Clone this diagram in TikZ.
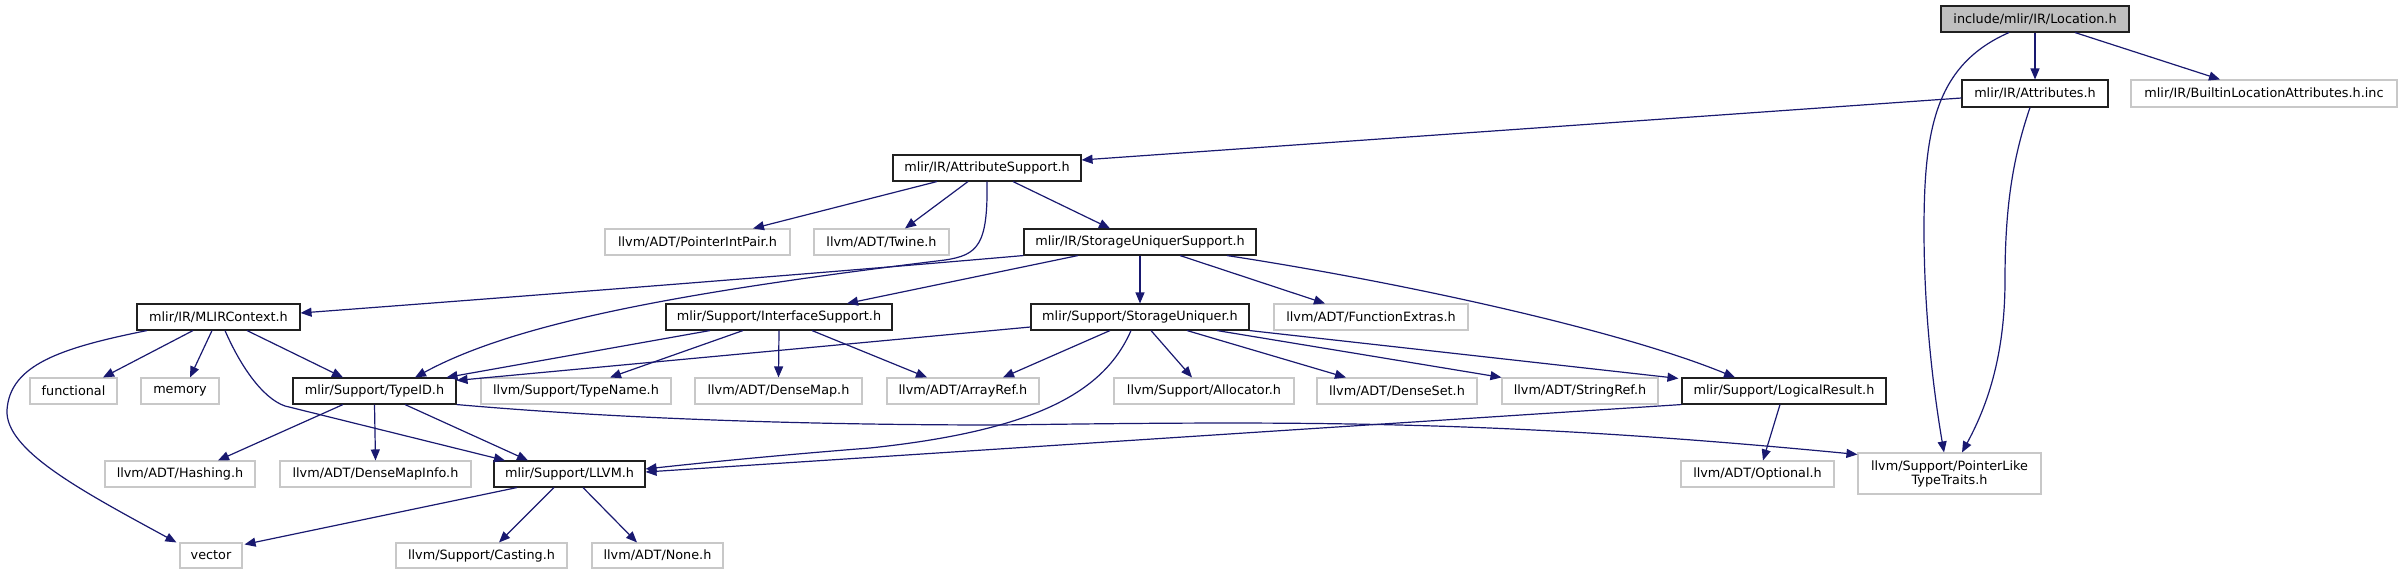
\documentclass[tikz,border=0pt]{standalone}
\usepackage{fontspec}
\setmainfont{DejaVu Sans}
\usetikzlibrary{arrows.meta}
\definecolor{edgeblue}{HTML}{191970}
\definecolor{graybox}{HTML}{C8C8C8}
\definecolor{rootgray}{HTML}{BFBFBF}
\definecolor{docborder}{HTML}{202020}
\begin{document}
\begin{tikzpicture}[x=1pt,y=-1pt,
  box/.style={line width=1.1pt, inner sep=0pt, font=\fontsize{12.8}{14}\selectfont, align=center, minimum height=26pt},
  doc/.style={box, draw=docborder},
  ext/.style={box, draw=graybox},
  edge/.style={draw=edgeblue, line width=1.2pt, -{Triangle[length=11pt,width=9pt]}}
]
\useasboundingbox (0,0) rectangle (2402,575);
% row 0
\node[doc, fill=rootgray, minimum width=188pt] (loc) at (2035,19) {include/mlir/IR/Location.h};
% row 1
\node[doc, minimum width=146pt, minimum height=27pt] (attr) at (2035,93.5) {mlir/IR/Attributes.h};
\node[ext, minimum width=266pt, minimum height=27pt] (builtin) at (2264,93.5) {mlir/IR/BuiltinLocationAttributes.h.inc};
% row 2
\node[doc, minimum width=188pt] (attrsup) at (987,168) {mlir/IR/AttributeSupport.h};
% row 3
\node[ext, minimum width=185pt] (pip) at (697.5,242) {llvm/ADT/PointerIntPair.h};
\node[ext, minimum width=135pt] (twine) at (881.5,242) {llvm/ADT/Twine.h};
\node[doc, minimum width=232pt] (sus) at (1140,242) {mlir/IR/StorageUniquerSupport.h};
% row 4
\node[doc, minimum width=163pt] (ctx) at (218.5,317) {mlir/IR/MLIRContext.h};
\node[doc, minimum width=226pt] (ifs) at (779,317) {mlir/Support/InterfaceSupport.h};
\node[doc, minimum width=218pt] (su) at (1140,317) {mlir/Support/StorageUniquer.h};
\node[ext, minimum width=194pt] (fext) at (1371,317) {llvm/ADT/FunctionExtras.h};
% row 5
\node[ext, minimum width=87pt] (functional) at (73.5,391) {functional};
\node[ext, minimum width=78pt] (memory) at (180,391) {memory};
\node[doc, minimum width=163pt] (typeid) at (374.5,391) {mlir/Support/TypeID.h};
\node[ext, minimum width=190pt] (tname) at (576,391) {llvm/Support/TypeName.h};
\node[ext, minimum width=167pt] (dmap) at (778.5,391) {llvm/ADT/DenseMap.h};
\node[ext, minimum width=152pt] (aref) at (963,391) {llvm/ADT/ArrayRef.h};
\node[ext, minimum width=180pt] (alloc) at (1204,391) {llvm/Support/Allocator.h};
\node[ext, minimum width=160pt] (dset) at (1397,391) {llvm/ADT/DenseSet.h};
\node[ext, minimum width=156pt] (sref) at (1580,391) {llvm/ADT/StringRef.h};
\node[doc, minimum width=204pt] (logres) at (1784,391) {mlir/Support/LogicalResult.h};
% row 6
\node[ext, minimum width=150pt] (hash) at (180,474) {llvm/ADT/Hashing.h};
\node[ext, minimum width=191pt] (dmi) at (375.5,474) {llvm/ADT/DenseMapInfo.h};
\node[doc, minimum width=151pt] (llvm) at (569.5,474) {mlir/Support/LLVM.h};
\node[ext, minimum width=153pt] (opt) at (1757.5,474) {llvm/ADT/Optional.h};
\node[ext, minimum width=183pt, minimum height=41pt] (plt) at (1949.5,473.5) {llvm/Support/PointerLike\\TypeTraits.h};
% row 7
\node[ext, minimum width=62pt, minimum height=25pt] (vector) at (211,555.5) {vector};
\node[ext, minimum width=171pt, minimum height=25pt] (cast) at (481.5,555.5) {llvm/Support/Casting.h};
\node[ext, minimum width=131pt, minimum height=25pt] (none) at (657.5,555.5) {llvm/ADT/None.h};

% edges from Location
\draw[edge] (loc.south) -- (attr.north);
\draw[edge] ([xshift=40pt]loc.south) -- ([xshift=-44pt]builtin.north);
\draw[edge] ([xshift=-26pt]loc.south) .. controls (1935,65) and (1924,130) .. (1924,230) .. controls (1924,320) and (1935,400) .. ([xshift=-5.5pt]plt.north);
% Attributes
\draw[edge] ([xshift=-5pt]attr.south) .. controls (2012,160) and (2005,210) .. (2005,280) .. controls (2005,360) and (1985,410) .. ([xshift=12.5pt]plt.north);
\draw[edge] ([yshift=-4.5pt]attr.west) -- ([yshift=8pt]attrsup.east);
% AttributeSupport
\draw[edge] ([xshift=-50pt]attrsup.south) -- ([xshift=55.5pt]pip.north);
\draw[edge] ([xshift=-19pt]attrsup.south) -- ([xshift=23.5pt]twine.north);
\draw[edge] ([xshift=26pt]attrsup.south) -- ([xshift=-30pt]sus.north);
\draw[edge] (attrsup.south) .. controls (988,245) and (978,255) .. (945,260) .. controls (700,290) and (520,320) .. ([xshift=40.5pt]typeid.north);
% StorageUniquerSupport
\draw[edge] (sus.south west) .. controls (800,275) and (500,298) .. ([yshift=4pt]ctx.east);
\draw[edge] ([xshift=-62pt]sus.south) -- ([xshift=68pt]ifs.north);
\draw[edge] (sus.south) -- (su.north);
\draw[edge] ([xshift=40pt]sus.south) -- ([xshift=-46pt]fext.north);
\draw[edge] ([xshift=87pt]sus.south) .. controls (1400,282) and (1620,330) .. ([xshift=-49pt]logres.north);
% MLIRContext
\draw[edge] ([xshift=-25.5pt]ctx.south) -- ([xshift=29.5pt]functional.north);
\draw[edge] ([xshift=-6.5pt]ctx.south) -- ([xshift=10pt]memory.north);
\draw[edge] ([xshift=28.5pt]ctx.south) -- ([xshift=-31.5pt]typeid.north);
\draw[edge] ([xshift=6.5pt]ctx.south) .. controls (240,365) and (262,398) .. (285,406) -- ([xshift=-64.5pt]llvm.north);
\draw[edge] ([xshift=-71.5pt]ctx.south) .. controls (60,348) and (10,365) .. (7,410) .. controls (5,450) and (80,490) .. ([xshift=-3pt]vector.north west);
% InterfaceSupport
\draw[edge] ([xshift=-69pt]ifs.south) -- ([xshift=72pt]typeid.north);
\draw[edge] ([xshift=-36pt]ifs.south) -- ([xshift=34pt]tname.north);
\draw[edge] (ifs.south) -- (dmap.north);
\draw[edge] ([xshift=33pt]ifs.south) -- ([xshift=-36pt]aref.north);
% StorageUniquer
\draw[edge] ([yshift=-10pt]su.west) -- ([yshift=-3pt]typeid.north east);
\draw[edge] ([xshift=-30pt]su.south) -- ([xshift=40pt]aref.north);
\draw[edge] ([xshift=-9pt]su.south) .. controls (1105,390) and (1040,430) .. (870,448) .. controls (780,455) and (700,463) .. ([yshift=5pt]llvm.east);
\draw[edge] ([xshift=11pt]su.south) -- ([xshift=-12pt]alloc.north);
\draw[edge] ([xshift=47pt]su.south) -- ([xshift=-51pt]dset.north);
\draw[edge] ([xshift=77pt]su.south) -- (sref.north west);
\draw[edge] (su.south east) -- ([xshift=-3pt,yshift=-1pt]logres.north west);
% TypeID
\draw[edge] ([xshift=-31.5pt]typeid.south) -- ([xshift=38pt]hash.north);
\draw[edge] (typeid.south) -- (dmi.north);
\draw[edge] ([xshift=30.5pt]typeid.south) -- ([xshift=-41.5pt]llvm.north);
\draw[edge] (typeid.south east) .. controls (520,410) and (700,425) .. (1000,425) .. controls (1300,421) and (1500,420) .. ([yshift=-2pt]plt.north west);
% LogicalResult
\draw[edge] (logres.south west) -- ([yshift=2pt]llvm.east);
\draw[edge] ([xshift=-4pt]logres.south) -- ([xshift=5.5pt]opt.north);
% LLVM
\draw[edge] ([xshift=-52.5pt]llvm.south) -- ([xshift=2pt,yshift=-2pt]vector.north east);
\draw[edge] ([xshift=-15.5pt]llvm.south) -- ([xshift=17.5pt]cast.north);
\draw[edge] ([xshift=13.5pt]llvm.south) -- ([xshift=-20.5pt]none.north);
\end{tikzpicture}
\end{document}
